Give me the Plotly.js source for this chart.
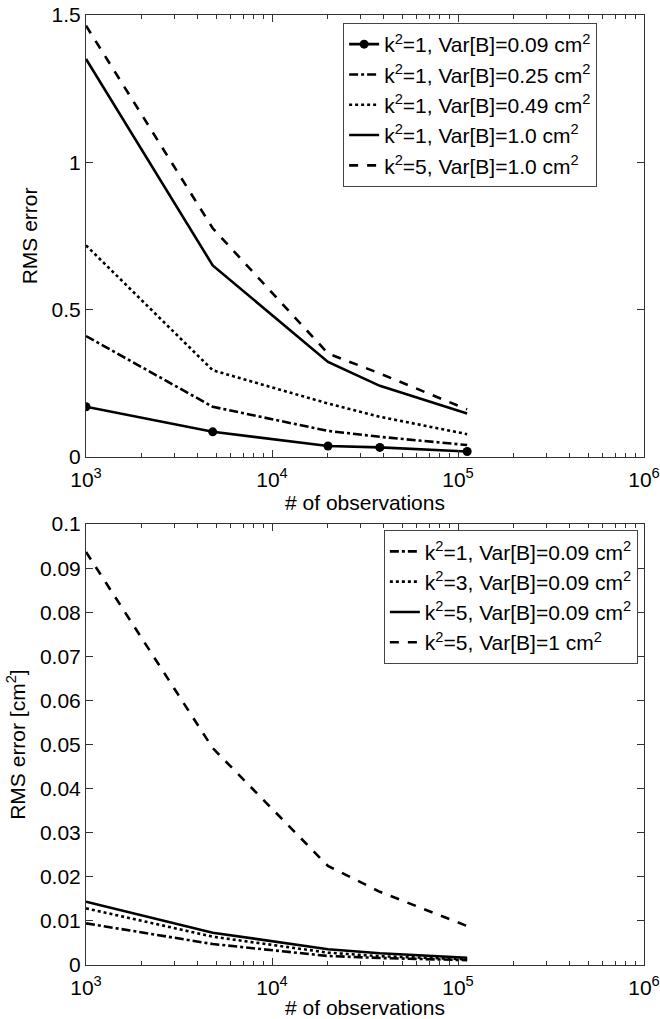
<!DOCTYPE html>
<html>
<head>
<meta charset="utf-8">
<script src="https://cdn.plot.ly/plotly-3.0.1.min.js"></script>
<style>html,body{margin:0;padding:0;background:#fff;}#chart{width:660px;height:1019px;}</style>
</head>
<body>
<div id="chart"></div>
<script>
// Number of observations (x values)
const nObs = [1000, 4800, 20000, 38000, 112000];

// Top panel series (RMS error)
const topNames = [
  'k<sup>2</sup>=1, Var[B]=0.09 cm<sup>2</sup>',
  'k<sup>2</sup>=1, Var[B]=0.25 cm<sup>2</sup>',
  'k<sup>2</sup>=1, Var[B]=0.49 cm<sup>2</sup>',
  'k<sup>2</sup>=1, Var[B]=1.0 cm<sup>2</sup>',
  'k<sup>2</sup>=5, Var[B]=1.0 cm<sup>2</sup>'
];
const top_k1_v009 = [0.170, 0.085, 0.037, 0.032, 0.018];
const top_k1_v025 = [0.410, 0.170, 0.088, 0.068, 0.040];
const top_k1_v049 = [0.718, 0.294, 0.181, 0.136, 0.077];
const top_k1_v100 = [1.351, 0.650, 0.322, 0.241, 0.147];
const top_k5_v100 = [1.464, 0.776, 0.351, 0.283, 0.161];

// Bottom panel series (RMS error [cm^2])
const botNames = [
  'k<sup>2</sup>=1, Var[B]=0.09 cm<sup>2</sup>',
  'k<sup>2</sup>=3, Var[B]=0.09 cm<sup>2</sup>',
  'k<sup>2</sup>=5, Var[B]=0.09 cm<sup>2</sup>',
  'k<sup>2</sup>=5, Var[B]=1 cm<sup>2</sup>'
];
const bot_k1_v009 = [0.00945, 0.00476, 0.00204, 0.00159, 0.00110];
const bot_k3_v009 = [0.01285, 0.00642, 0.00280, 0.00200, 0.00130];
const bot_k5_v009 = [0.01436, 0.00733, 0.00356, 0.00265, 0.00165];
const bot_k5_v100 = [0.0937, 0.0492, 0.02245, 0.0166, 0.00884];

// Axis tick labels
const xTickVals = [1000, 10000, 100000, 1000000];
const xTickText = ['10<sup>3</sup>', '10<sup>4</sup>', '10<sup>5</sup>', '10<sup>6</sup>'];
const topYTicks = [0, 0.5, 1, 1.5];
const botYTicks = [0, 0.01, 0.02, 0.03, 0.04, 0.05, 0.06, 0.07, 0.08, 0.09, 0.1];

const minorX = [];
[1000, 10000, 100000].forEach(d => { for (let m = 2; m <= 9; m++) minorX.push(d * m); });

const FONT = 'Liberation Sans, Arial, Helvetica, sans-serif';
const LW = 2.6;
const K = '#000';

function tr(y, name, dash, xa, ya, leg, marker) {
  const t = {
    x: nObs, y: y, name: name, type: 'scatter',
    mode: marker ? 'lines+markers' : 'lines',
    line: {color: K, width: LW, dash: dash},
    xaxis: xa, yaxis: ya, legend: leg
  };
  if (marker) t.marker = {color: K, size: 9, symbol: 'circle'};
  return t;
}

const data = [
  tr(top_k1_v009, topNames[0], 'solid', 'x', 'y', 'legend', true),
  tr(top_k1_v025, topNames[1], 'dashdot', 'x', 'y', 'legend'),
  tr(top_k1_v049, topNames[2], 'dot', 'x', 'y', 'legend'),
  tr(top_k1_v100, topNames[3], 'solid', 'x', 'y', 'legend'),
  tr(top_k5_v100, topNames[4], 'dash', 'x', 'y', 'legend'),
  tr(bot_k1_v009, botNames[0], 'dashdot', 'x2', 'y2', 'legend2'),
  tr(bot_k3_v009, botNames[1], 'dot', 'x2', 'y2', 'legend2'),
  tr(bot_k5_v009, botNames[2], 'solid', 'x2', 'y2', 'legend2'),
  tr(bot_k5_v100, botNames[3], 'dash', 'x2', 'y2', 'legend2')
];

const AXC = '#333';
function xAxis(domainAnchor) {
  return {
    type: 'log', range: [3, 6], anchor: domainAnchor,
    tickmode: 'array', tickvals: xTickVals, ticktext: xTickText,
    ticks: 'inside', ticklen: 7, tickcolor: AXC, tickwidth: 1,
    minor: {tickmode: 'array', tickvals: minorX, ticks: 'inside', ticklen: 4, tickcolor: AXC, tickwidth: 1},
    showline: true, linecolor: AXC, linewidth: 1, mirror: 'ticks',
    showgrid: false, zeroline: false,
    ticklabelstandoff: 4,
    tickfont: {family: FONT, size: 21, color: '#000'},
    title: {text: '# of observations', font: {family: FONT, size: 21, color: '#000'}, standoff: 3},
    automargin: false
  };
}
function yAxis(domain, range, ticks, title, xa) {
  return {
    domain: domain, range: range, anchor: xa,
    tickmode: 'array', tickvals: ticks,
    ticks: 'inside', ticklen: 7, tickcolor: AXC, tickwidth: 1,
    showline: true, linecolor: AXC, linewidth: 1, mirror: 'ticks',
    showgrid: false, zeroline: false,
    tickfont: {family: FONT, size: 21, color: '#000'},
    title: {text: title, font: {family: FONT, size: 21, color: '#000'}, standoff: 8},
    automargin: false
  };
}

const legendBase = {
  bgcolor: '#fff', bordercolor: '#444', borderwidth: 1,
  font: {family: FONT, size: 21, color: '#000'},
  xanchor: 'right', yanchor: 'top', tracegroupgap: 0
};

const layout = {
  width: 660, height: 1019,
  margin: {l: 86, r: 16, t: 15, b: 54},
  paper_bgcolor: '#fff', plot_bgcolor: '#fff',
  showlegend: true,
  xaxis: xAxis('y'),
  yaxis: yAxis([0.5349, 1], [0, 1.5], topYTicks, 'RMS error', 'x'),
  xaxis2: xAxis('y2'),
  yaxis2: yAxis([0, 0.4641], [0, 0.1], botYTicks, 'RMS error [cm<sup>2</sup>]', 'x2'),
  legend: Object.assign({}, legendBase, {x: 0.916, y: 0.9916}),
  legend2: Object.assign({}, legendBase, {x: 0.989, y: 0.4577})
};

Plotly.newPlot('chart', data, layout, {displayModeBar: false, staticPlot: true});
</script>
</body>
</html>
